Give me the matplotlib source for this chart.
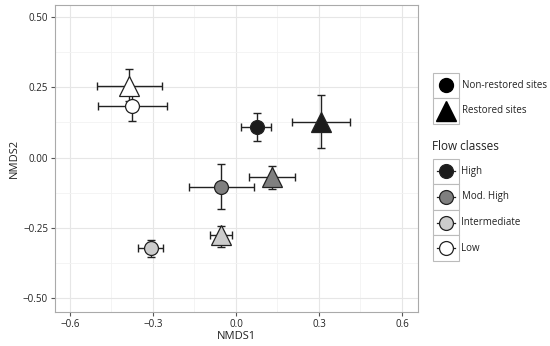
import matplotlib
matplotlib.use('Agg')
import matplotlib.pyplot as plt
from matplotlib.patches import Rectangle
from matplotlib.lines import Line2D

plt.rcParams['font.family'] = ['Open Sans', 'DejaVu Sans']

# NMDS centroids with error bars (lower / upper bounds)
flow = ['High', 'Mod. High', 'Intermediate', 'Low']
fills = ['#1c1c1c', '#7f7f7f', '#cccccc', '#ffffff']

# non-restored sites (circles)
nr_x = [0.075, -0.054, -0.308, -0.376]
nr_y = [0.108, -0.104, -0.323, 0.183]
nr_xlo = [0.019, -0.170, -0.355, -0.500]
nr_xhi = [0.125, 0.065, -0.263, -0.251]
nr_ylo = [0.058, -0.183, -0.354, 0.130]
nr_yhi = [0.157, -0.024, -0.294, 0.236]

# restored sites (triangles)
r_x = [0.306, 0.131, -0.055, -0.387]
r_y = [0.127, -0.068, -0.277, 0.254]
r_xlo = [0.202, 0.048, -0.095, -0.502]
r_xhi = [0.413, 0.214, -0.013, -0.268]
r_ylo = [0.035, -0.112, -0.317, 0.200]
r_yhi = [0.222, -0.030, -0.243, 0.315]

fig = plt.figure(figsize=(5.5, 3.46), dpi=100)
ax = fig.add_axes([0.1, 0.098, 0.66, 0.8875])

ecol = '#222222'
for xs, ys, xlo, xhi, ylo, yhi in [
        (nr_x, nr_y, nr_xlo, nr_xhi, nr_ylo, nr_yhi),
        (r_x, r_y, r_xlo, r_xhi, r_ylo, r_yhi)]:
    for i in range(len(xs)):
        ax.errorbar(xs[i], ys[i],
                    xerr=[[xs[i] - xlo[i]], [xhi[i] - xs[i]]],
                    yerr=[[ys[i] - ylo[i]], [yhi[i] - ys[i]]],
                    fmt='none', ecolor=ecol, elinewidth=1.0, capsize=3,
                    capthick=1.0, zorder=2)
for xs, ys, mk, ms in [(nr_x, nr_y, 'o', 10), (r_x, r_y, '^', 14)]:
    for i in range(len(xs)):
        ax.plot(xs[i], ys[i], marker=mk, markersize=ms, markerfacecolor=fills[i],
                markeredgecolor=ecol, markeredgewidth=0.9, linestyle='none', zorder=3)

ax.set_xlim(-0.654, 0.658)
ax.set_ylim(-0.55, 0.543)
ax.set_xticks([-0.6, -0.3, 0.0, 0.3, 0.6])
ax.set_xticklabels(['\u22120.6', '\u22120.3', '0.0', '0.3', '0.6'])
ax.set_yticks([-0.5, -0.25, 0.0, 0.25, 0.5])
ax.set_yticklabels(['\u22120.50', '\u22120.25', '0.00', '0.25', '0.50'])
ax.set_xticks([-0.45, -0.15, 0.15, 0.45], minor=True)
ax.set_yticks([-0.375, -0.125, 0.125, 0.375], minor=True)
ax.grid(which='major', color='#e6e6e6', linewidth=0.8)
ax.grid(which='minor', color='#f2f2f2', linewidth=0.6)
ax.set_axisbelow(True)
ax.tick_params(which='major', length=3, color='#555555', labelsize=7, labelcolor='#222222', pad=2)
ax.tick_params(which='minor', length=0)
for s in ax.spines.values():
    s.set_color('#aaaaaa')
    s.set_linewidth(0.8)
ax.set_xlabel('NMDS1', fontsize=8, labelpad=1, color='#222222')
ax.set_ylabel('NMDS2', fontsize=8, labelpad=2, color='#222222')

# legends drawn in pixel space
lg = fig.add_axes([0, 0, 1, 1])
lg.set_xlim(0, 550)
lg.set_ylim(346, 0)
lg.axis('off')

kx, kw = 432.5, 26
site_labels = ['Non-restored sites', 'Restored sites']
site_marks = [('o', 10), ('^', 14)]
y0 = 72.5
for j, lab in enumerate(site_labels):
    top = y0 + j * 25.5
    lg.add_patch(Rectangle((kx, top), kw, 25.5, facecolor='white', edgecolor='#bbbbbb', linewidth=0.8))
    lg.plot(kx + kw / 2, top + 12.75, marker=site_marks[j][0], markersize=site_marks[j][1],
            color='black', linestyle='none')
    lg.text(kx + kw + 3, top + 12.75, lab, fontsize=7, va='center', ha='left', color='#222222')

lg.text(kx, 146, 'Flow classes', fontsize=8.5, va='center', ha='left', color='#222222')
y0 = 158.5
for j, lab in enumerate(flow):
    top = y0 + j * 25.6
    lg.add_patch(Rectangle((kx, top), kw, 25.6, facecolor='white', edgecolor='#bbbbbb', linewidth=0.8))
    cy = top + 12.8
    lg.add_line(Line2D([kx + 4, kx + kw - 4], [cy, cy], color=ecol, linewidth=0.9))
    lg.plot(kx + kw / 2, cy, marker='o', markersize=10, markerfacecolor=fills[j],
            markeredgecolor=ecol, markeredgewidth=0.9, linestyle='none')
    lg.text(kx + kw + 3, cy, lab, fontsize=7, va='center', ha='left', color='#222222')

fig.savefig('out.png', dpi=100)
